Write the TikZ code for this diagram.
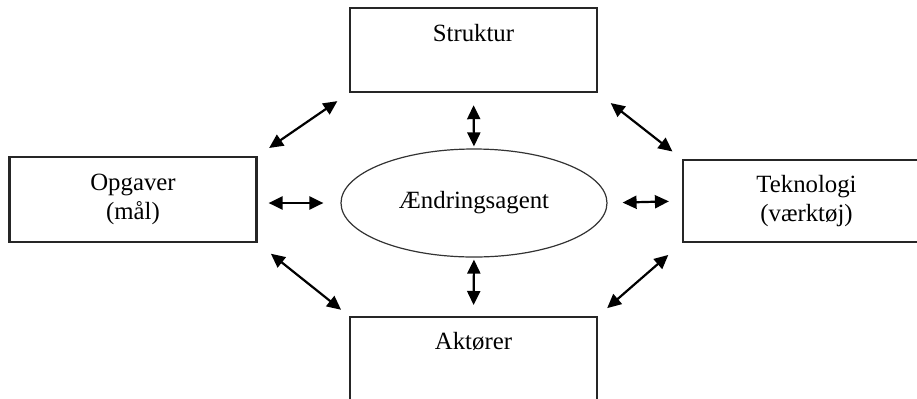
\documentclass[tikz,border=0pt]{standalone}
\usepackage{fontspec}
\setmainfont{Liberation Serif}
\usetikzlibrary{arrows.meta,shapes.geometric}

\begin{document}
\begin{tikzpicture}[x=0.5pt,y=-0.5pt,
  font=\fontsize{12.4}{14.5}\selectfont,
  box/.style={draw=black!85,line width=1.1pt,inner sep=0pt,minimum width=123.5pt,align=center},
  agentshape/.style={draw=black!80,ellipse,line width=0.6pt,inner sep=0pt,minimum width=133pt,minimum height=54pt},
  link/.style={line width=1.1pt,{Triangle[length=7pt,width=6.5pt]}-{Triangle[length=7pt,width=6.5pt]}}]
  \clip (0,0) rectangle (917,398);
  % the four boxes round the agent
  \node[box,anchor=north,text height=16.5pt,text depth=25.5pt] (struktur) at (473.5,7) {Struktur};
  \node[box,minimum height=42.5pt] (opgaver) at (133,199.5) {Opgaver\\(mål)};
  \node[box,minimum height=41pt] (teknologi) at (806.5,201) {Teknologi\\(værktøj)};
  \node[box,anchor=north,text height=16pt,text depth=60pt] (aktorer) at (473.5,316) {Aktører};
  \node[agentshape] (agent) at (474,203) {Ændringsagent};
  % arrows
  \draw[link,shorten <=6pt,shorten >=1pt] (struktur.south) -- (agent.north);
  \draw[link,shorten <=1pt,shorten >=5.5pt] (agent.south) -- (aktorer.north);
  \draw[link,shorten <=5.5pt,shorten >=8.5pt] (opgaver.east |- agent.west) -- (agent.west);
  \draw[link,shorten <=7.5pt,shorten >=6.5pt] (agent.east) -- (teknologi.west);
  \draw[link,shorten <=7pt,shorten >=7pt] (opgaver.north east) -- (struktur.south west);
  \draw[link,shorten <=8pt,shorten >=6pt] (struktur.south east) -- (teknologi.north west);
  \draw[link,shorten <=8.5pt,shorten >=5pt] (opgaver.south east) -- (aktorer.north west);
  \draw[link,shorten <=6pt,shorten >=9pt] (aktorer.north east) -- (teknologi.south west);
\end{tikzpicture}
\end{document}
